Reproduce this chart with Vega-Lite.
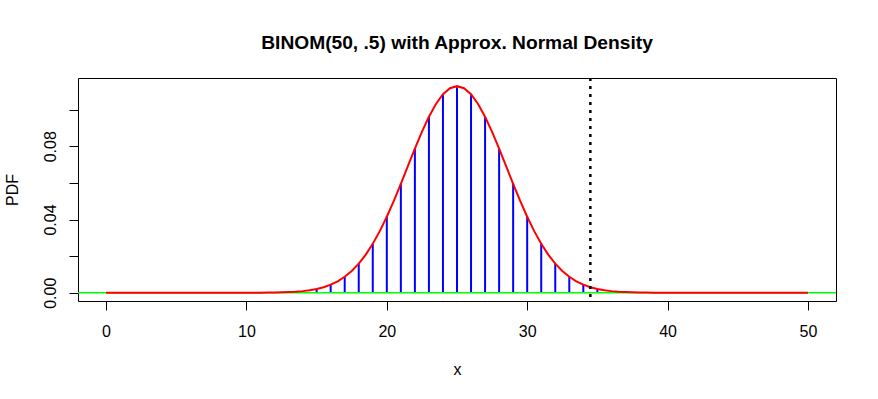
{
  "$schema": "https://vega.github.io/schema/vega-lite/v6.json",
  "width": 758,
  "height": 223,
  "autosize": {"type": "none"},
  "padding": {"left": 78, "top": 78, "right": 42, "bottom": 98},
  "background": "white",
  "title": {
    "text": "BINOM(50, .5) with Approx. Normal Density",
    "font": "Liberation Sans",
    "fontSize": 19.2,
    "fontWeight": "bold",
    "color": "black",
    "anchor": "middle",
    "baseline": "alphabetic",
    "offset": 9
  },
  "config": {
    "view": {"stroke": "black", "strokeWidth": 1},
    "axis": {
      "grid": false,
      "domain": false,
      "tickColor": "black",
      "tickSize": 9,
      "tickWidth": 1,
      "labelFont": "Liberation Sans",
      "labelFontSize": 16,
      "labelColor": "black",
      "titleFont": "Liberation Sans",
      "titleFontSize": 16,
      "titleFontWeight": "normal",
      "titleColor": "black"
    }
  },
  "datasets": {
    "pmf": [
      {"k": 0, "p": 0}, {"k": 1, "p": 0}, {"k": 2, "p": 0}, {"k": 3, "p": 0}, {"k": 4, "p": 0},
      {"k": 5, "p": 0}, {"k": 6, "p": 0}, {"k": 7, "p": 0}, {"k": 8, "p": 0}, {"k": 9, "p": 0.000002},
      {"k": 10, "p": 0.0000091}, {"k": 11, "p": 0.0000333}, {"k": 12, "p": 0.000108}, {"k": 13, "p": 0.000315},
      {"k": 14, "p": 0.000833}, {"k": 15, "p": 0.0019992}, {"k": 16, "p": 0.0043739}, {"k": 17, "p": 0.0087479},
      {"k": 18, "p": 0.0160378}, {"k": 19, "p": 0.0270109}, {"k": 20, "p": 0.0418658}, {"k": 21, "p": 0.0597369},
      {"k": 22, "p": 0.0788528}, {"k": 23, "p": 0.0959617}, {"k": 24, "p": 0.1079569}, {"k": 25, "p": 0.1122752},
      {"k": 26, "p": 0.1079569}, {"k": 27, "p": 0.0959617}, {"k": 28, "p": 0.0788528}, {"k": 29, "p": 0.0597369},
      {"k": 30, "p": 0.0418658}, {"k": 31, "p": 0.0270109}, {"k": 32, "p": 0.0160378}, {"k": 33, "p": 0.0087479},
      {"k": 34, "p": 0.0043739}, {"k": 35, "p": 0.0019992}, {"k": 36, "p": 0.000833}, {"k": 37, "p": 0.000315},
      {"k": 38, "p": 0.000108}, {"k": 39, "p": 0.0000333}, {"k": 40, "p": 0.0000091}, {"k": 41, "p": 0.000002},
      {"k": 42, "p": 0}, {"k": 43, "p": 0}, {"k": 44, "p": 0}, {"k": 45, "p": 0}, {"k": 46, "p": 0},
      {"k": 47, "p": 0}, {"k": 48, "p": 0}, {"k": 49, "p": 0}, {"k": 50, "p": 0}
    ],
    "curve": [
      {"x": 0, "d": 0}, {"x": 0.5, "d": 0}, {"x": 1, "d": 0}, {"x": 1.5, "d": 0}, {"x": 2, "d": 0},
      {"x": 2.5, "d": 0}, {"x": 3, "d": 0}, {"x": 3.5, "d": 0}, {"x": 4, "d": 0}, {"x": 4.5, "d": 0},
      {"x": 5, "d": 0}, {"x": 5.5, "d": 0}, {"x": 6, "d": 0}, {"x": 6.5, "d": 0}, {"x": 7, "d": 0},
      {"x": 7.5, "d": 0}, {"x": 8, "d": 0}, {"x": 8.5, "d": 0}, {"x": 9, "d": 0.000002}, {"x": 9.5, "d": 0.0000076},
      {"x": 10, "d": 0.0000139}, {"x": 10.5, "d": 0.0000251}, {"x": 11, "d": 0.0000445}, {"x": 11.5, "d": 0.0000771},
      {"x": 12, "d": 0.000131}, {"x": 12.5, "d": 0.000218}, {"x": 13, "d": 0.000355}, {"x": 13.5, "d": 0.000569},
      {"x": 14, "d": 0.000893}, {"x": 14.5, "d": 0.00137}, {"x": 15, "d": 0.00207}, {"x": 15.5, "d": 0.00305},
      {"x": 16, "d": 0.00442}, {"x": 16.5, "d": 0.00627}, {"x": 17, "d": 0.00872}, {"x": 17.5, "d": 0.01189},
      {"x": 18, "d": 0.01589}, {"x": 18.5, "d": 0.02082}, {"x": 19, "d": 0.02674}, {"x": 19.5, "d": 0.03365},
      {"x": 20, "d": 0.04151}, {"x": 20.5, "d": 0.0502}, {"x": 21, "d": 0.0595}, {"x": 21.5, "d": 0.06913},
      {"x": 22, "d": 0.07873}, {"x": 22.5, "d": 0.08788}, {"x": 23, "d": 0.09616}, {"x": 23.5, "d": 0.10313},
      {"x": 24, "d": 0.10842}, {"x": 24.5, "d": 0.11172}, {"x": 25, "d": 0.11284}, {"x": 25.5, "d": 0.11172},
      {"x": 26, "d": 0.10842}, {"x": 26.5, "d": 0.10313}, {"x": 27, "d": 0.09616}, {"x": 27.5, "d": 0.08788},
      {"x": 28, "d": 0.07873}, {"x": 28.5, "d": 0.06913}, {"x": 29, "d": 0.0595}, {"x": 29.5, "d": 0.0502},
      {"x": 30, "d": 0.04151}, {"x": 30.5, "d": 0.03365}, {"x": 31, "d": 0.02674}, {"x": 31.5, "d": 0.02082},
      {"x": 32, "d": 0.01589}, {"x": 32.5, "d": 0.01189}, {"x": 33, "d": 0.00872}, {"x": 33.5, "d": 0.00627},
      {"x": 34, "d": 0.00442}, {"x": 34.5, "d": 0.00305}, {"x": 35, "d": 0.00207}, {"x": 35.5, "d": 0.00137},
      {"x": 36, "d": 0.000893}, {"x": 36.5, "d": 0.000569}, {"x": 37, "d": 0.000355}, {"x": 37.5, "d": 0.000218},
      {"x": 38, "d": 0.000131}, {"x": 38.5, "d": 0.0000771}, {"x": 39, "d": 0.0000445}, {"x": 39.5, "d": 0.0000251},
      {"x": 40, "d": 0.0000139}, {"x": 40.5, "d": 0.0000076}, {"x": 41, "d": 0.000002}, {"x": 41.5, "d": 0},
      {"x": 42, "d": 0}, {"x": 42.5, "d": 0}, {"x": 43, "d": 0}, {"x": 43.5, "d": 0}, {"x": 44, "d": 0},
      {"x": 44.5, "d": 0}, {"x": 45, "d": 0}, {"x": 45.5, "d": 0}, {"x": 46, "d": 0}, {"x": 46.5, "d": 0},
      {"x": 47, "d": 0}, {"x": 47.5, "d": 0}, {"x": 48, "d": 0}, {"x": 48.5, "d": 0}, {"x": 49, "d": 0},
      {"x": 49.5, "d": 0}, {"x": 50, "d": 0}
    ],
    "refs": [
      {"h": 0, "cutoff": 34.5}
    ]
  },
  "layer": [
    {
      "data": {"name": "pmf"},
      "mark": {"type": "rule", "color": "#0000ff", "strokeWidth": 2, "strokeCap": "butt"},
      "encoding": {
        "x": {"field": "k", "type": "quantitative",
          "scale": {"domain": [-2, 52], "nice": false, "zero": false},
          "axis": {"values": [0, 10, 20, 30, 40, 50], "labelPadding": 13, "title": "x", "titlePadding": 22}},
        "y": {"field": "p", "type": "quantitative",
          "scale": {"domain": [-0.0045, 0.1173], "nice": false, "zero": false},
          "axis": {"values": [0, 0.02, 0.04, 0.06, 0.08, 0.1], "format": ".2f",
            "labelExpr": "(round(datum.value*100) % 4 == 0 && datum.value < 0.09) ? datum.label : ''",
            "labelAngle": -90, "labelAlign": "center", "labelBaseline": "bottom",
            "labelPadding": 10.6, "title": "PDF", "titlePadding": 22}},
        "y2": {"datum": 0}
      }
    },
    {
      "data": {"name": "refs"},
      "mark": {"type": "rule", "color": "#00ff00", "strokeWidth": 1.3},
      "encoding": {
        "y": {"field": "h", "type": "quantitative"}
      }
    },
    {
      "data": {"name": "curve"},
      "mark": {"type": "line", "color": "#ff0000", "strokeWidth": 2},
      "encoding": {
        "x": {"field": "x", "type": "quantitative"},
        "y": {"field": "d", "type": "quantitative"}
      }
    },
    {
      "data": {"name": "refs"},
      "mark": {"type": "rule", "color": "black", "strokeWidth": 2.5, "strokeDash": [3, 5]},
      "encoding": {
        "x": {"field": "cutoff", "type": "quantitative"}
      }
    }
  ]
}
